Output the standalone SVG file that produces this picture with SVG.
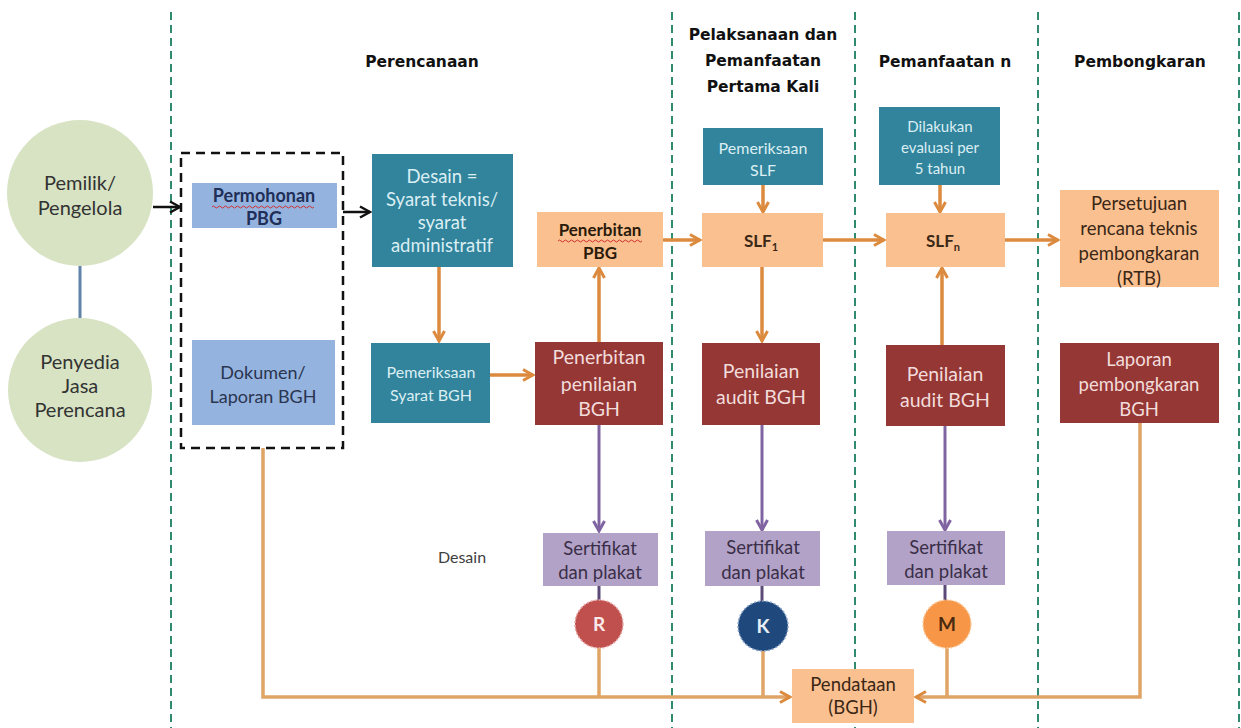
<svg xmlns="http://www.w3.org/2000/svg" width="1241" height="728" viewBox="0 0 1241 728">
<style>
.t{font-family:Lato,"Open Sans","Liberation Sans",sans-serif;text-anchor:middle}
.h{font-family:"DejaVu Sans","Liberation Sans",sans-serif;font-weight:bold;font-size:15.5px;fill:#111;text-anchor:middle}
.teal{fill:#31849b}.tealt{fill:#dbeef4}
.red{fill:#953735}.redt{fill:#f2dcdb}
.peach{fill:#fac090}.peacht{fill:#3b2716}
.lav{fill:#b3a2c7}.lavt{fill:#3a2f48}
.blue{fill:#95b3df}
.circ{fill:#d7e3c3}
.sep{stroke:#2f8a70;stroke-width:2;stroke-dasharray:8 5;fill:none}
.or{stroke:#dc8a3e;stroke-width:3.5;fill:none}
.orl{stroke:#e0a466;stroke-width:3.5;fill:none}
.bk{stroke:#111;stroke-width:2.5;fill:none}
.pu{stroke:#8064a2;stroke-width:3;fill:none}
.pud{stroke:#5b4a78;stroke-width:3;fill:none}
.wavy{stroke:#d03030;stroke-width:1;fill:none}
</style>
<defs>
<marker id="ao" viewBox="0 0 14 14" refX="12" refY="7" markerWidth="14" markerHeight="14" markerUnits="userSpaceOnUse" orient="auto"><path d="M2,1.5 L12,7 L2,12.5" stroke="#dc8a3e" stroke-width="3" fill="none"/></marker>
<marker id="ab" viewBox="0 0 14 14" refX="12" refY="7" markerWidth="14" markerHeight="14" markerUnits="userSpaceOnUse" orient="auto"><path d="M2,1.5 L12,7 L2,12.5" stroke="#111" stroke-width="2.5" fill="none"/></marker>
<marker id="ap" viewBox="0 0 14 14" refX="12" refY="7" markerWidth="14" markerHeight="14" markerUnits="userSpaceOnUse" orient="auto"><path d="M2,1.5 L12,7 L2,12.5" stroke="#8064a2" stroke-width="3" fill="none"/></marker>
</defs>
<rect width="1241" height="728" fill="#fff"/>

<g id="separators">
<line class="sep" x1="171" y1="12" x2="171" y2="728"/>
<line class="sep" x1="672" y1="12" x2="672" y2="728"/>
<line class="sep" x1="855" y1="12" x2="855" y2="728"/>
<line class="sep" x1="1038" y1="12" x2="1038" y2="728"/>
<line class="sep" x1="1239" y1="12" x2="1239" y2="728"/>
</g>

<g id="headers">
<text class="h" x="422" y="67">Perencanaan</text>
<text class="h" x="763" y="40">Pelaksanaan dan</text>
<text class="h" x="763" y="66">Pemanfaatan</text>
<text class="h" x="763" y="92">Pertama Kali</text>
<text class="h" x="945" y="67">Pemanfaatan n</text>
<text class="h" x="1140" y="67">Pembongkaran</text>
</g>

<g id="connectors">
<line class="pu" x1="80" y1="266" x2="80" y2="318" style="stroke:#5f84a8"/>
<line class="bk" x1="153" y1="207" x2="180" y2="207" marker-end="url(#ab)"/>
<line class="bk" x1="343" y1="212" x2="370" y2="212" marker-end="url(#ab)"/>
<line class="or" x1="439" y1="267" x2="439" y2="341" marker-end="url(#ao)"/>
<line class="or" x1="490" y1="375" x2="533" y2="375" marker-end="url(#ao)"/>
<line class="or" x1="599" y1="342" x2="599" y2="268" marker-end="url(#ao)"/>
<line class="or" x1="663" y1="240" x2="700" y2="240" marker-end="url(#ao)"/>
<line class="or" x1="763" y1="185" x2="763" y2="212" marker-end="url(#ao)"/>
<line class="or" x1="762" y1="267" x2="762" y2="341" marker-end="url(#ao)"/>
<line class="or" x1="823" y1="240" x2="884" y2="240" marker-end="url(#ao)"/>
<line class="or" x1="940" y1="185" x2="940" y2="212" marker-end="url(#ao)"/>
<line class="or" x1="942" y1="345" x2="942" y2="268" marker-end="url(#ao)"/>
<line class="or" x1="1005" y1="240" x2="1058" y2="240" marker-end="url(#ao)"/>
<line class="pu" x1="599" y1="425" x2="599" y2="531" marker-end="url(#ap)"/>
<line class="pu" x1="762" y1="425" x2="762" y2="530" marker-end="url(#ap)"/>
<line class="pu" x1="945" y1="426" x2="945" y2="530" marker-end="url(#ap)"/>
<line class="pud" x1="599" y1="586" x2="599" y2="602"/>
<line class="pud" x1="762" y1="586" x2="762" y2="603"/>
<line class="pud" x1="945" y1="585" x2="945" y2="602"/>
<line class="orl" x1="599" y1="646" x2="599" y2="697"/>
<line class="orl" x1="763" y1="649" x2="763" y2="697"/>
<line class="orl" x1="947" y1="646" x2="947" y2="697"/>
<path class="orl" d="M263,448 V697 H790" marker-end="url(#ao)"/>
<path class="orl" d="M1140,423 V697 H916" marker-end="url(#ao)"/>
</g>

<g id="pemilik">
<circle class="circ" cx="80" cy="193" r="73"/>
<text class="t" x="80" y="190" font-size="20" fill="#333">Pemilik/</text>
<text class="t" x="80" y="215" font-size="20" fill="#333">Pengelola</text>
</g>
<g id="penyedia">
<circle class="circ" cx="80" cy="390" r="72"/>
<text class="t" x="80" y="369" font-size="20" fill="#333">Penyedia</text>
<text class="t" x="80" y="393" font-size="20" fill="#333">Jasa</text>
<text class="t" x="80" y="417" font-size="20" fill="#333">Perencana</text>
</g>

<g id="dokumen-group">
<rect x="181" y="153" width="162" height="295" fill="none" stroke="#111" stroke-width="2.5" stroke-dasharray="9 6"/>
</g>
<g id="permohonan">
<rect class="blue" x="192" y="183" width="145" height="45"/>
<text class="t" x="264" y="202" font-size="18" font-weight="bold" fill="#1f2f57">Permohonan</text>
<path class="wavy" d="M212,207 q1.5,-2 3,0 t3,0 t3,0 t3,0 t3,0 t3,0 t3,0 t3,0 t3,0 t3,0 t3,0 t3,0 t3,0 t3,0 t3,0 t3,0 t3,0 t3,0 t3,0 t3,0 t3,0 t3,0 t3,0 t3,0 t3,0 t3,0 t3,0 t3,0 t3,0 t3,0 t3,0 t3,0 t3,0 t3,0"/>
<text class="t" x="264" y="225" font-size="18" font-weight="bold" fill="#1f2f57">PBG</text>
</g>
<g id="dokumen">
<rect class="blue" x="192" y="340" width="143" height="85"/>
<text class="t" x="263" y="379" font-size="18" fill="#2a3550">Dokumen/</text>
<text class="t" x="263" y="403" font-size="18" fill="#2a3550">Laporan BGH</text>
</g>

<g id="desain">
<rect class="teal" x="372" y="154" width="141" height="113"/>
<text class="t tealt" x="442" y="183" font-size="18.5">Desain =</text>
<text class="t tealt" x="442" y="206" font-size="18.5">Syarat teknis/</text>
<text class="t tealt" x="442" y="229" font-size="18.5">syarat</text>
<text class="t tealt" x="442" y="252" font-size="18.5">administratif</text>
</g>
<g id="pemeriksaan-syarat">
<rect class="teal" x="371" y="343" width="119" height="80"/>
<text class="t tealt" x="431" y="378" font-size="16">Pemeriksaan</text>
<text class="t tealt" x="431" y="401" font-size="16">Syarat BGH</text>
</g>
<g id="penerbitan-pbg">
<rect class="peach" x="537" y="212" width="126" height="55"/>
<text class="t" x="600" y="236" font-size="17" font-weight="bold" fill="#2a1a0a">Penerbitan</text>
<path class="wavy" d="M558,241 q1.5,-2 3,0 t3,0 t3,0 t3,0 t3,0 t3,0 t3,0 t3,0 t3,0 t3,0 t3,0 t3,0 t3,0 t3,0 t3,0 t3,0 t3,0 t3,0 t3,0 t3,0 t3,0 t3,0 t3,0 t3,0 t3,0 t3,0 t3,0 t3,0"/>
<text class="t" x="600" y="259" font-size="17" font-weight="bold" fill="#2a1a0a">PBG</text>
</g>
<g id="penerbitan-penilaian">
<rect class="red" x="535" y="342" width="128" height="83"/>
<text class="t redt" x="599" y="364" font-size="19.5">Penerbitan</text>
<text class="t redt" x="599" y="391" font-size="19.5">penilaian</text>
<text class="t redt" x="599" y="416" font-size="19.5">BGH</text>
</g>

<g id="pemeriksaan-slf">
<rect class="teal" x="703" y="128" width="120" height="57"/>
<text class="t tealt" x="763" y="154" font-size="16">Pemeriksaan</text>
<text class="t tealt" x="763" y="176" font-size="16">SLF</text>
</g>
<g id="slf1">
<rect class="peach" x="702" y="213" width="121" height="54"/>
<text class="t peacht" x="761" y="247" font-size="17" font-weight="bold">SLF<tspan font-size="11" dy="4">1</tspan></text>
</g>
<g id="penilaian-audit-1">
<rect class="red" x="702" y="343" width="118" height="82"/>
<text class="t redt" x="761" y="378" font-size="19.5">Penilaian</text>
<text class="t redt" x="761" y="404" font-size="19.5">audit BGH</text>
</g>

<g id="dilakukan">
<rect class="teal" x="879" y="107" width="121" height="78"/>
<text class="t tealt" x="940" y="132" font-size="15">Dilakukan</text>
<text class="t tealt" x="940" y="153" font-size="15">evaluasi per</text>
<text class="t tealt" x="940" y="174" font-size="15">5 tahun</text>
</g>
<g id="slfn">
<rect class="peach" x="886" y="213" width="119" height="54"/>
<text class="t peacht" x="943" y="247" font-size="17" font-weight="bold">SLF<tspan font-size="11" dy="4">n</tspan></text>
</g>
<g id="penilaian-audit-2">
<rect class="red" x="886" y="345" width="119" height="81"/>
<text class="t redt" x="945" y="381" font-size="19.5">Penilaian</text>
<text class="t redt" x="945" y="407" font-size="19.5">audit BGH</text>
</g>

<g id="persetujuan">
<rect class="peach" x="1060" y="190" width="159" height="97"/>
<text class="t peacht" x="1139" y="210" font-size="18.5">Persetujuan</text>
<text class="t peacht" x="1139" y="235" font-size="18.5">rencana teknis</text>
<text class="t peacht" x="1139" y="260" font-size="18.5">pembongkaran</text>
<text class="t peacht" x="1139" y="285" font-size="18.5">(RTB)</text>
</g>
<g id="laporan">
<rect class="red" x="1060" y="343" width="159" height="80"/>
<text class="t redt" x="1139" y="366" font-size="18.5">Laporan</text>
<text class="t redt" x="1139" y="391" font-size="18.5">pembongkaran</text>
<text class="t redt" x="1139" y="416" font-size="18.5">BGH</text>
</g>

<g id="desain-label">
<text class="t" x="462" y="563" font-size="16" fill="#404040">Desain</text>
</g>

<g id="sertifikat-1">
<rect class="lav" x="543" y="533" width="115" height="53"/>
<text class="t lavt" x="600" y="555" font-size="18.5">Sertifikat</text>
<text class="t lavt" x="600" y="579" font-size="18.5">dan plakat</text>
</g>
<g id="sertifikat-2">
<rect class="lav" x="705" y="531" width="115" height="55"/>
<text class="t lavt" x="763" y="554" font-size="18.5">Sertifikat</text>
<text class="t lavt" x="763" y="579" font-size="18.5">dan plakat</text>
</g>
<g id="sertifikat-3">
<rect class="lav" x="887" y="531" width="118" height="54"/>
<text class="t lavt" x="946" y="554" font-size="18.5">Sertifikat</text>
<text class="t lavt" x="946" y="578" font-size="18.5">dan plakat</text>
</g>

<g id="badge-r">
<circle cx="599" cy="624" r="24" fill="#c0504d" stroke="#e8a8a6" stroke-width="1.5" stroke-dasharray="2 2"/>
<text class="t" x="599" y="631" font-size="19" font-weight="bold" fill="#fbeaea">R</text>
</g>
<g id="badge-k">
<circle cx="763" cy="626" r="25" fill="#1f497d" stroke="#8aa4c8" stroke-width="1.5" stroke-dasharray="2 2"/>
<text class="t" x="763" y="633" font-size="19" font-weight="bold" fill="#e8eef6">K</text>
</g>
<g id="badge-m">
<circle cx="947" cy="624" r="24" fill="#f79646" stroke="#fbc89a" stroke-width="1.5" stroke-dasharray="2 2"/>
<text class="t" x="947" y="631" font-size="19" font-weight="bold" fill="#4a2a10">M</text>
</g>

<g id="pendataan">
<rect class="peach" x="792" y="669" width="122" height="54"/>
<text class="t peacht" x="853" y="691" font-size="18.5">Pendataan</text>
<text class="t peacht" x="853" y="714" font-size="18.5">(BGH)</text>
</g>
</svg>
